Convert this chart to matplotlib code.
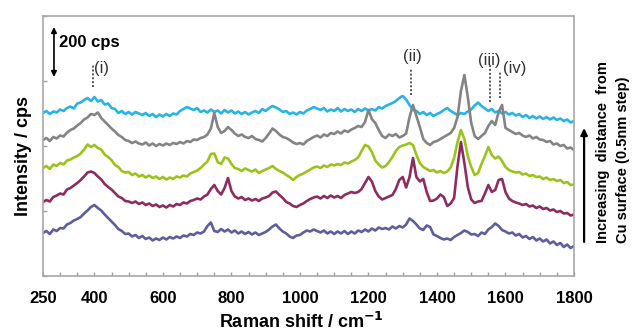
import numpy as np
import matplotlib
matplotlib.use("Agg")
import matplotlib.pyplot as plt
from matplotlib.ticker import MultipleLocator

plt.rcParams['font.family'] = ['Liberation Sans', 'DejaVu Sans']

# Raman shift grid (cm-1), one value every 10 cm-1
shift = np.arange(250, 1801, 10)

# spectra (cps, stacked as drawn), top to bottom
blue = [652, 660, 648, 658, 654, 666, 660, 672, 678, 670,
        690, 694, 704, 712, 700, 716, 698, 704, 686, 690,
        672, 668, 652, 660, 648, 656, 646, 656, 650, 644,
        652, 640, 648, 636, 646, 638, 648, 640, 650, 646,
        660, 668, 676, 670, 664, 672, 656, 662, 654, 666,
        656, 662, 650, 664, 654, 662, 650, 658, 648, 656,
        646, 654, 660, 652, 668, 660, 672, 680, 674, 666,
        656, 660, 648, 654, 646, 656, 650, 662, 668, 676,
        670, 664, 672, 658, 666, 660, 672, 658, 668, 660,
        666, 656, 668, 660, 670, 662, 668, 662, 676, 670,
        680, 686, 692, 700, 712, 720, 706, 684, 664, 660,
        648, 656, 644, 652, 640, 648, 654, 664, 672, 660,
        652, 644, 652, 648, 658, 666, 682, 694, 680, 670,
        660, 668, 654, 660, 650, 656, 646, 652, 642, 648,
        636, 644, 632, 640, 630, 638, 628, 636, 626, 634,
        624, 630, 620, 626, 614, 620]

gray = [544, 552, 540, 556, 550, 562, 558, 574, 584, 590,
        602, 612, 626, 634, 648, 644, 654, 632, 618, 604,
        590, 578, 564, 556, 544, 540, 532, 538, 530, 526,
        534, 522, 530, 520, 528, 522, 530, 524, 532, 528,
        536, 530, 540, 536, 546, 544, 552, 556, 566, 590,
        652, 596, 572, 580, 596, 584, 570, 560, 566, 556,
        552, 560, 548, 544, 538, 552, 570, 590, 580, 566,
        556, 552, 544, 534, 528, 532, 526, 540, 548, 556,
        562, 554, 566, 560, 572, 568, 578, 570, 582, 576,
        586, 592, 600, 596, 616, 664, 628, 612, 584, 560,
        552, 566, 560, 568, 554, 560, 570, 636, 684, 640,
        596, 548, 532, 524, 536, 540, 548, 556, 564, 572,
        592, 636, 740, 804, 716, 612, 560, 548, 560, 572,
        600, 620, 604, 656, 684, 592, 584, 576, 568, 572,
        562, 556, 562, 550, 556, 546, 544, 536, 540, 526,
        530, 520, 524, 510, 514, 504]

green = [432, 440, 428, 446, 440, 452, 446, 462, 466, 474,
         480, 490, 506, 526, 516, 524, 512, 506, 486, 476,
         464, 444, 436, 420, 414, 416, 404, 410, 398, 404,
         394, 402, 392, 398, 388, 396, 386, 394, 388, 398,
         394, 402, 398, 410, 416, 422, 432, 446, 458, 488,
         490, 456, 448, 474, 470, 448, 432, 428, 420, 430,
         424, 418, 426, 412, 420, 426, 432, 440, 428, 420,
         414, 404, 396, 384, 396, 404, 410, 418, 426, 434,
         438, 432, 442, 436, 446, 442, 448, 444, 454, 450,
         458, 464, 474, 500, 524, 518, 496, 462, 446, 434,
         440, 456, 476, 500, 516, 522, 526, 532, 524, 484,
         452, 436, 428, 420, 424, 414, 420, 412, 418, 434,
         472, 536, 584, 548, 480, 436, 404, 412, 448, 480,
         516, 484, 470, 478, 460, 436, 424, 418, 414, 416,
         406, 410, 400, 404, 396, 398, 388, 394, 384, 388,
         380, 384, 372, 376, 364, 366]

magenta = [296, 304, 298, 316, 322, 330, 326, 346, 352, 362,
           372, 384, 398, 414, 418, 412, 398, 386, 368, 356,
           346, 332, 318, 312, 300, 298, 292, 298, 288, 294,
           284, 290, 280, 286, 276, 282, 274, 284, 278, 288,
           284, 294, 290, 300, 304, 310, 306, 318, 326, 348,
           364, 340, 326, 352, 392, 340, 318, 310, 316, 304,
           310, 302, 308, 300, 310, 314, 320, 334, 338, 324,
           312, 296, 290, 280, 276, 284, 290, 300, 308, 314,
           318, 310, 320, 312, 322, 314, 320, 312, 324, 330,
           336, 332, 336, 348, 372, 396, 378, 340, 318, 306,
           312, 318, 324, 348, 384, 396, 354, 396, 472, 396,
           378, 388, 336, 300, 302, 310, 326, 316, 280, 290,
           312, 440, 536, 452, 356, 306, 292, 298, 300, 330,
           364, 336, 344, 384, 388, 336, 310, 300, 294, 290,
           284, 288, 278, 282, 272, 278, 268, 272, 262, 266,
           256, 260, 250, 252, 242, 246]

purple = [172, 180, 168, 186, 180, 192, 190, 206, 212, 222,
          228, 236, 250, 262, 276, 284, 272, 262, 246, 232,
          218, 204, 188, 180, 168, 170, 158, 164, 152, 160,
          148, 154, 142, 150, 144, 154, 146, 156, 150, 158,
          152, 162, 158, 168, 164, 174, 170, 178, 200, 214,
          180, 176, 188, 178, 186, 174, 182, 170, 178, 168,
          176, 166, 174, 164, 170, 176, 186, 198, 206, 190,
          178, 170, 158, 152, 162, 164, 174, 182, 178, 186,
          180, 174, 182, 170, 178, 168, 178, 170, 180, 168,
          178, 170, 182, 176, 186, 178, 190, 182, 194, 188,
          192, 186, 198, 190, 200, 194, 206, 230, 220, 206,
          190, 184, 202, 196, 166, 160, 152, 146, 150, 144,
          156, 164, 172, 182, 176, 166, 168, 160, 174, 168,
          186, 196, 210, 200, 184, 178, 170, 174, 162, 168,
          154, 160, 148, 156, 142, 150, 138, 146, 130, 138,
          124, 132, 116, 126, 112, 120]

series = [(blue, '#29b3e6'), (gray, '#848484'), (green, '#9cc31c'),
          (magenta, '#8e2b5f'), (purple, '#5e5e9c')]

# peak labels: text, line x, line y0, y1, text x, text y
peaks = [('(i)', 395, 756, 844, 422, 832),
         ('(ii)', 1324, 724, 832, 1329, 876),
         ('(iii)', 1555, 696, 844, 1552, 864),
         ('(iv)', 1584, 712, 816, 1628, 832)]

fig = plt.figure(figsize=(6.34, 3.33), dpi=100)
ax = fig.add_axes([43/634, 57/333, 531/634, 260/333])

for vals, col in series:
    ax.plot(shift, vals, color=col, lw=1.9)

for lab, lx, y0, y1, tx, ty in peaks:
    ax.plot([lx, lx], [y0, y1], color='#555555', lw=1.4, ls=(0, (1, 1)))
    ax.text(tx, ty, lab, fontsize=12, color='#333333', ha='center', va='center')

# scale bar
ax.annotate('', xy=(282, 996), xytext=(282, 796),
            arrowprops=dict(arrowstyle='<|-|>', color='black', lw=1.2,
                            mutation_scale=8, shrinkA=0, shrinkB=0))
ax.text(297, 936, '200 cps', fontsize=12, fontweight='bold', va='center')

ax.set_xlim(250, 1800)
ax.set_ylim(0, 1040)
ax.set_xticks([250, 400, 600, 800, 1000, 1200, 1400, 1600, 1800])
ax.xaxis.set_minor_locator(MultipleLocator(50))
ax.set_yticks([0, 260, 520, 780, 1040])
ax.set_yticklabels([])
ax.tick_params(axis='both', which='both', direction='in', length=3,
               color='#a0a0a0', width=1)
ax.tick_params(axis='x', labelsize=12, pad=11)
for t in ax.get_xticklabels():
    t.set_fontweight('bold')
for sp in ax.spines.values():
    sp.set_color('#a8a8a8')
    sp.set_linewidth(1.2)

ax.text(0.486, -0.177, 'Raman shift / cm$^{\\mathbf{-1}}$', transform=ax.transAxes,
        fontsize=13, fontweight='bold', ha='center', va='center')
ax.text(-0.036, 0.46, 'Intensity / cps', transform=ax.transAxes, rotation=90,
        fontsize=13, fontweight='bold', ha='center', va='center')

# distance arrow on the right
ax.annotate('', xy=(1.019, 0.569), xytext=(1.019, 0.131), xycoords='axes fraction',
            annotation_clip=False,
            arrowprops=dict(arrowstyle='-|>', color='black', lw=1.6,
                            mutation_scale=10, shrinkA=0, shrinkB=0))
ax.text(1.055, 0.127, 'Increasing  distance  from', transform=ax.transAxes,
        rotation=90, fontsize=10.5, fontweight='bold', ha='center', va='bottom')
ax.text(1.092, 0.127, 'Cu surface (0.5nm step)', transform=ax.transAxes,
        rotation=90, fontsize=10.5, fontweight='bold', ha='center', va='bottom')

fig.savefig('out.png', dpi=100)
